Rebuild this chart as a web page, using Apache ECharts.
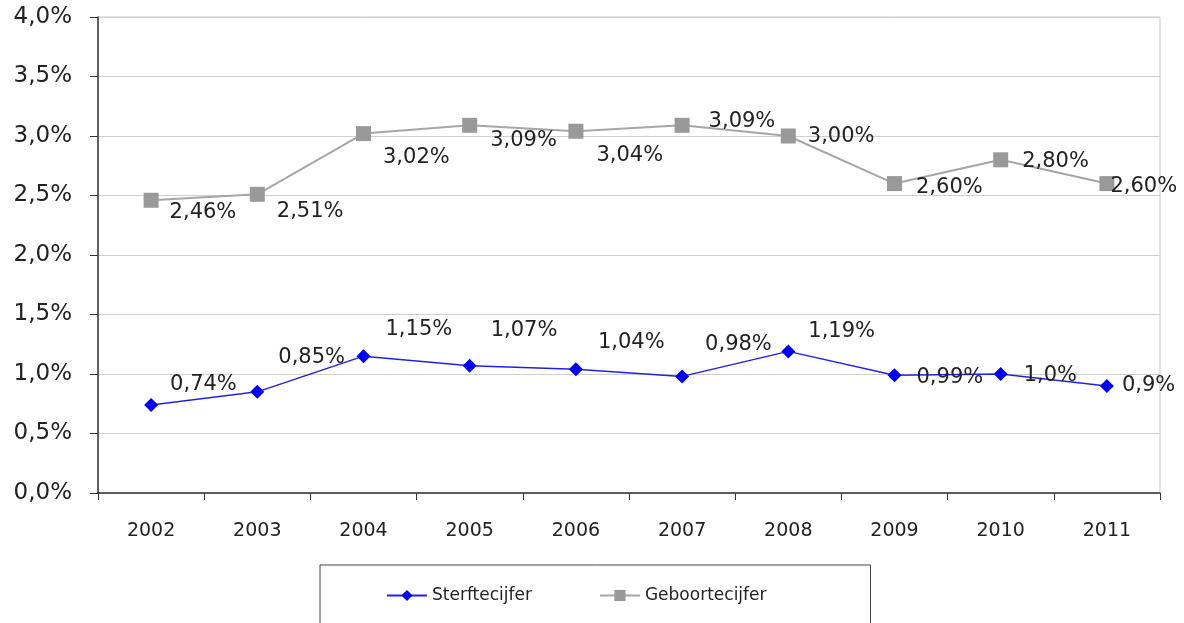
<!DOCTYPE html>
<html>
<head>
<meta charset="utf-8">
<script src="https://cdn.jsdelivr.net/npm/echarts@6/dist/echarts.min.js"></script>
<style>
  html, body { margin: 0; padding: 0; background: #fff; }
  #chart { width: 1184px; height: 623px; }
</style>
</head>
<body>
<div id="chart"></div>
<script>
var years = ['2002', '2003', '2004', '2005', '2006', '2007', '2008', '2009', '2010', '2011'];
var sterfte = [0.74, 0.85, 1.15, 1.07, 1.04, 0.98, 1.19, 0.99, 1.0, 0.9];
var sterfteLabels = ['0,74%', '0,85%', '1,15%', '1,07%', '1,04%', '0,98%', '1,19%', '0,99%', '1,0%', '0,9%'];
var geboorte = [2.46, 2.51, 3.02, 3.09, 3.04, 3.09, 3.00, 2.60, 2.80, 2.60];
var geboorteLabels = ['2,46%', '2,51%', '3,02%', '3,09%', '3,04%', '3,09%', '3,00%', '2,60%', '2,80%', '2,60%'];

// label placement as in the original (offsets from the marker, px)
var sterfteShiftX = [12, 14, 15, 14, 15, 16, 13, 15, 16, 8];
var sterfteShiftY = [-20, -34, -27, -35, -27, -32, -20, 2, 2, 0];
var geboorteShiftX = [11, 12, 12, 13, 13, 19, 12, 14, 14, -4];
var geboorteShiftY = [12, 17, 24, 15, 24, -4, 1, 4, 2, 3];

var chart = echarts.init(document.getElementById('chart'));

function withLabels(values, labels, dx, dy) {
  return values.map(function (v, i) {
    return {
      value: v,
      label: { formatter: labels[i], offset: [dx[i], dy[i]] }
    };
  });
}

var labelStyle = {
  show: true,
  position: 'right',
  distance: 0,
  fontFamily: 'DejaVu Sans',
  fontSize: 21,
  color: '#222'
};

var option = {
  backgroundColor: '#fff',
  animation: false,
  grid: {
    left: 98, right: 24, top: 17, bottom: 130,
    show: true,
    borderColor: '#c8c8c8',
    borderWidth: 1
  },
  xAxis: {
    type: 'category',
    data: years,
    boundaryGap: true,
    axisLine: { lineStyle: { color: '#333', width: 1.5 } },
    axisTick: { show: true, length: 7, lineStyle: { color: '#333' } },
    axisLabel: { margin: 29, fontFamily: 'DejaVu Sans', fontSize: 19, color: '#222' },
    splitLine: { show: false }
  },
  yAxis: {
    type: 'value',
    min: 0,
    max: 4,
    interval: 0.5,
    axisLine: { show: true, lineStyle: { color: '#333', width: 1.5 } },
    axisTick: { show: true, length: 8, lineStyle: { color: '#333' } },
    axisLabel: {
      margin: 26,
      fontFamily: 'DejaVu Sans',
      fontSize: 23,
      color: '#222',
      formatter: function (v) { return v.toFixed(1).replace('.', ',') + '%'; }
    },
    splitLine: { lineStyle: { color: '#cfcfcf', width: 1 } }
  },
  legend: {
    left: 320,
    top: 565,
    itemWidth: 40,
    itemHeight: 14,
    itemGap: 67,
    padding: [22, 104, 40, 66],
    borderColor: '#444',
    borderWidth: 1,
    textStyle: { fontFamily: 'DejaVu Sans', fontSize: 17, color: '#222' },
    data: ['Sterftecijfer', 'Geboortecijfer']
  },
  series: [
    {
      name: 'Sterftecijfer',
      type: 'line',
      data: withLabels(sterfte, sterfteLabels, sterfteShiftX, sterfteShiftY),
      symbol: 'diamond',
      symbolSize: 14,
      itemStyle: { color: '#0000ee' },
      lineStyle: { color: '#2020ee', width: 1.5 },
      label: labelStyle
    },
    {
      name: 'Geboortecijfer',
      type: 'line',
      data: withLabels(geboorte, geboorteLabels, geboorteShiftX, geboorteShiftY),
      symbol: 'rect',
      symbolSize: 15,
      itemStyle: { color: '#999999' },
      lineStyle: { color: '#a6a6a6', width: 2 },
      label: labelStyle
    }
  ]
};

chart.setOption(option);
</script>
</body>
</html>
